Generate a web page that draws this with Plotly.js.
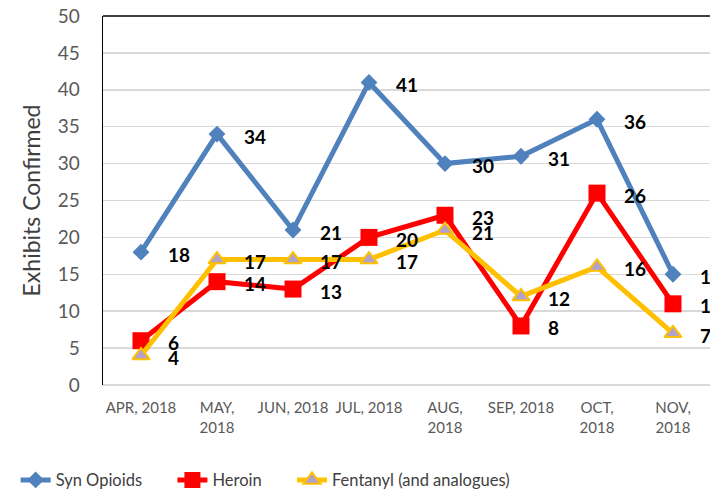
<!DOCTYPE html>
<html>
<head>
<meta charset="utf-8">
<script src="https://cdn.plot.ly/plotly-3.0.1.min.js"></script>
<style>html,body{margin:0;padding:0;background:#fff;overflow:hidden}</style>
</head>
<body>
<div id="chart" style="width:711px;height:494px"></div>
<script>
const categories = ["APR, 2018", "MAY, 2018", "JUN, 2018", "JUL, 2018", "AUG, 2018", "SEP, 2018", "OCT, 2018", "NOV, 2018"];
const tickLabels = ["APR, 2018", "MAY,<br>2018", "JUN, 2018", "JUL, 2018", "AUG,<br>2018", "SEP, 2018", "OCT,<br>2018", "NOV,<br>2018"];
const synOpioids = [18, 34, 21, 41, 30, 31, 36, 15];
const heroin = [6, 14, 13, 20, 23, 8, 26, 11];
const fentanyl = [4, 17, 17, 17, 21, 12, 16, 7];
const seriesNames = ["Syn Opioids", "Heroin", "Fentanyl (and analogues)"];

const FONT = "Lato, 'Open Sans', sans-serif";
const pad = "\u00a0\u00a0\u00a0\u00a0\u00a0\u00a0";

const traces = [
  {x: categories, y: synOpioids, name: seriesNames[0] + pad, mode: "lines+markers",
   line: {color: "#4F81BD", width: 5},
   marker: {symbol: "diamond", size: 13, color: "#4F81BD"}},
  {x: categories, y: heroin, name: seriesNames[1] + pad, mode: "lines+markers",
   line: {color: "#FF0000", width: 5},
   marker: {symbol: "square", size: 17, color: "#FF0000"}},
  {x: categories, y: fentanyl, name: seriesNames[2], mode: "lines+markers",
   line: {color: "#FFC000", width: 5},
   marker: {symbol: "triangle-up", size: 15, color: "#B3A2C7", line: {color: "#FFC000", width: 2}}}
];

const annotations = [];
[synOpioids, heroin, fentanyl].forEach(arr => {
  arr.forEach((v, i) => {
    annotations.push({x: categories[i], y: v, xref: "x", yref: "y", text: String(v),
      showarrow: false, xanchor: "left", yanchor: "middle", xshift: 25, yshift: -2,
      font: {family: FONT, size: 19, color: "#000000", weight: 700}});
  });
});

const layout = {
  width: 711, height: 494,
  margin: {l: 103, r: 0, t: 16, b: 109},
  paper_bgcolor: "#ffffff", plot_bgcolor: "#ffffff",
  showlegend: true,
  legend: {orientation: "h", xref: "container", yref: "container", x: 0.022, y: 0.028,
    xanchor: "left", yanchor: "middle", font: {family: FONT, size: 16.5, color: "#404040"},
    traceorder: "normal"},
  xaxis: {type: "category", range: [-0.5, 7.5], tickvals: categories, ticktext: tickLabels,
    showgrid: false, zeroline: false, showline: false, ticks: "",
    ticklabelstandoff: 12,
    tickfont: {family: FONT, size: 15, color: "#595959"}, fixedrange: true},
  yaxis: {range: [0, 50], dtick: 5, tick0: 0, showgrid: true, gridcolor: "#D9D9D9", gridwidth: 1.5,
    zeroline: true, zerolinecolor: "#D9D9D9", zerolinewidth: 1.5,
    showline: true, linecolor: "#000000", linewidth: 1.5, ticks: "",
    ticklabelstandoff: 18,
    tickfont: {family: FONT, size: 19, color: "#595959"},
    title: {text: "Exhibits Confirmed", font: {family: FONT, size: 23, color: "#404040"}, standoff: 10},
    fixedrange: true},
  shapes: [{type: "line", xref: "paper", yref: "paper", x0: 0, x1: 1, y0: 1, y1: 1,
    line: {color: "#000000", width: 1.5}}],
  annotations: annotations
};

Plotly.newPlot("chart", traces, layout, {displayModeBar: false, staticPlot: true});
</script>
</body>
</html>
